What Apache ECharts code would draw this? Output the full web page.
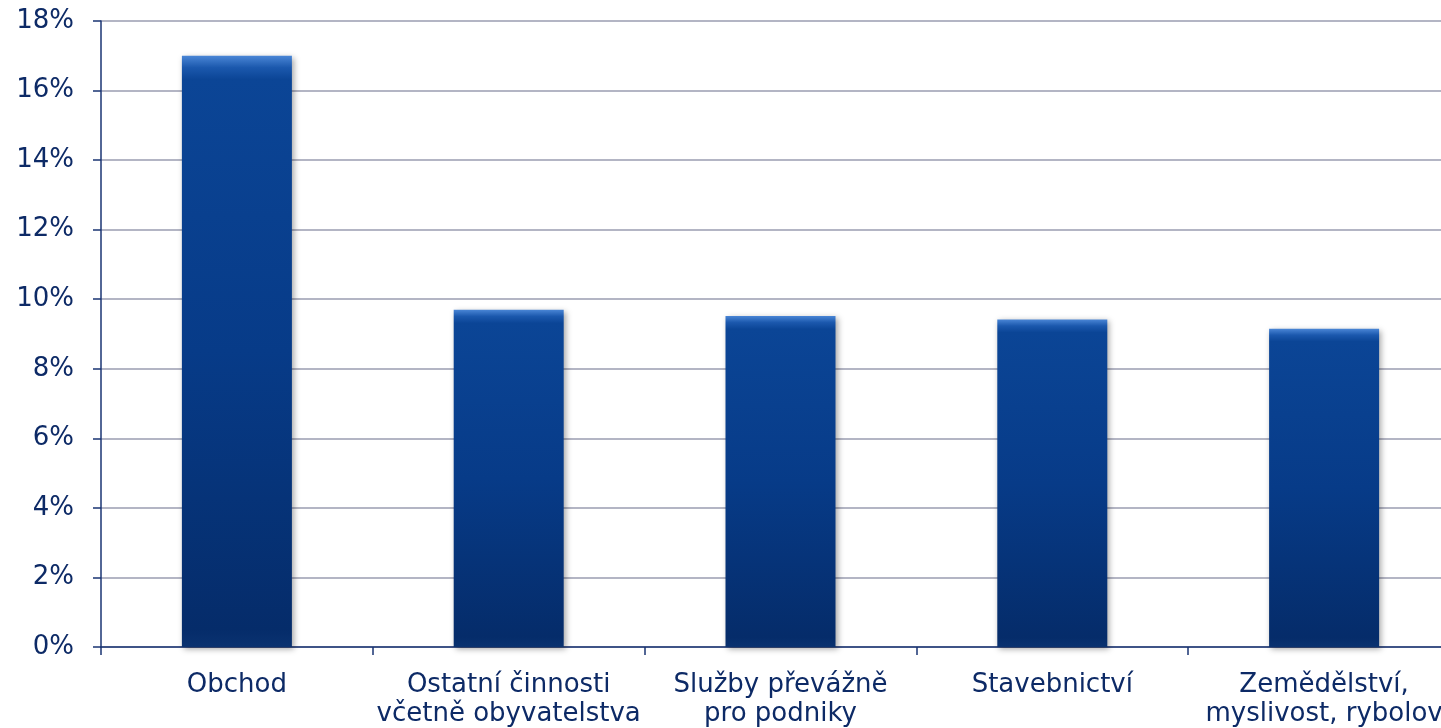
<!DOCTYPE html>
<html>
<head>
<meta charset="utf-8">
<script src="https://cdn.jsdelivr.net/npm/echarts@6/dist/echarts.min.js"></script>
<style>html,body{margin:0;padding:0;background:#fff}#c{width:1441px;height:728px}</style>
</head>
<body>
<div id="c"></div>
<script>
var categories = ['Obchod', 'Ostatní činnosti\nvčetně obyvatelstva', 'Služby převážně\npro podniky', 'Stavebnictví', 'Zemědělství,\nmyslivost, rybolov'];
var values = [17.0, 9.7, 9.52, 9.42, 9.15];
var yTicks = { min: 0, max: 18, interval: 2 };

var textColor = '#0d2a66';
var chart = echarts.init(document.getElementById('c'));
chart.setOption({
  animation: false,
  grid: { left: 101, top: 21, right: -19, bottom: 81, containLabel: false, outerBoundsMode: 'none' },
  xAxis: {
    type: 'category',
    data: categories,
    axisLine: { lineStyle: { color: '#1a3573', width: 1.5 } },
    axisTick: { show: true, length: 8, lineStyle: { color: '#1a3573', width: 1.5 } },
    axisLabel: { color: textColor, fontFamily: 'DejaVu Sans', fontSize: 26, lineHeight: 29, margin: 24, interval: 0 }
  },
  yAxis: {
    type: 'value',
    min: yTicks.min, max: yTicks.max, interval: yTicks.interval,
    axisLine: { show: true, lineStyle: { color: '#1a3573', width: 1.5 } },
    axisTick: { show: true, length: 8, lineStyle: { color: '#1a3573', width: 1.5 } },
    axisLabel: { color: textColor, fontFamily: 'DejaVu Sans', fontSize: 26, margin: 27, formatter: function (v) { return v + '%'; } },
    splitLine: { lineStyle: { color: '#9a9cb0', width: 1.5 } }
  },
  series: [{
    type: 'bar',
    data: values,
    barWidth: 110,
    itemStyle: {
      color: {
        type: 'linear', x: 0, y: 0, x2: 0, y2: 1,
        colorStops: [
          { offset: 0, color: '#4a86d6' },
          { offset: 0.02, color: '#1b58ad' },
          { offset: 0.04, color: '#0b4596' },
          { offset: 0.5, color: '#073b88' },
          { offset: 0.97, color: '#052c6a' },
          { offset: 1, color: '#0a3270' }
        ]
      },
      shadowBlur: 6,
      shadowColor: 'rgba(0,0,0,0.35)',
      shadowOffsetX: 2,
      shadowOffsetY: 2
    }
  }]
});
</script>
</body>
</html>
